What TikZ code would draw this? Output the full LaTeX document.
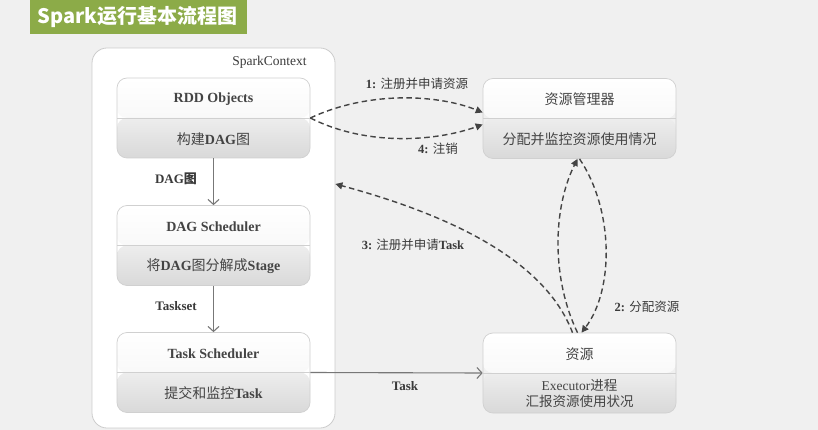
\documentclass[tikz,border=0pt]{standalone}
\usepackage{fontspec}
\setmainfont{Liberation Serif}
\newfontfamily\cjk{Noto Sans CJK SC}
\usetikzlibrary{arrows.meta}
\definecolor{bg}{HTML}{F0F0F0}
\definecolor{ttl}{HTML}{8CAB48}
\definecolor{txt}{HTML}{3A3A3A}
\definecolor{boxtxt}{HTML}{444444}
\definecolor{boxline}{HTML}{D0D0D0}
\definecolor{dashc}{HTML}{444444}
\definecolor{solidc}{HTML}{777777}
\newcommand\zh[1]{{\cjk #1}}
\tikzset{
  twobox/.style={rectangle, rounded corners=10pt, minimum width=193pt, minimum height=80pt,
    inner sep=0pt, draw=boxline, line width=0.7pt,
    path picture={
      \shade[top color=white, bottom color=gray!10]
        (path picture bounding box.north west) rectangle (path picture bounding box.east);
      \shade[top color=gray!14, bottom color=gray!30]
        (path picture bounding box.west) rectangle (path picture bounding box.south east);
      \draw[boxline, line width=0.7pt] (path picture bounding box.west) -- (path picture bounding box.east);
    }},
  boxtext/.style={text=boxtxt, font=\fontsize{14}{16}\selectfont, inner sep=0pt, align=center},
  lbl/.style={text=txt, font=\fontsize{12.5}{14}\selectfont, inner sep=0pt},
  sidelbl/.style={text=txt, font=\fontsize{13}{15}\selectfont\bfseries, inner sep=0pt},
  solidarrow/.style={draw=solidc, line width=1.1pt, -{Straight Barb[length=5pt,width=11pt]}},
  dasharrow/.style={draw=dashc, line width=1.4pt, dash pattern=on 5.5pt off 3.5pt,
    -{Triangle[length=7pt,width=7pt]}},
}
\begin{document}
\begin{tikzpicture}[x=1pt,y=-1pt]
\useasboundingbox (0,0) rectangle (818,430);
\fill[bg] (0,0) rectangle (818,430);

% title banner
\node[fill=ttl, minimum width=217pt, minimum height=34pt, inner sep=0pt] (title) at (138.5,17) {};
\node[text=white, font=\cjk\bfseries\fontsize{20}{22}\selectfont, inner sep=0pt] (titletext) at (137.5,16.5) {Spark运行基本流程图};

% SparkContext container
\node[draw=gray!40, fill=white, rounded corners=15pt, minimum width=243pt, minimum height=380pt,
      inner sep=0pt, line width=0.8pt] (sc) at (213.5,238) {};
\node[text=txt, font=\fontsize{13.5}{15}\selectfont, inner sep=0pt] (sclbl) at (269.5,62) {SparkContext};

% boxes
\node[twobox] (rdd) at (213.5,118) {};
\node[boxtext] (rddt) at ([yshift=19pt]rdd.center) {\bfseries RDD Objects};
\node[boxtext] (rddb) at ([yshift=-21pt]rdd.center) {\zh{构建}\textbf{DAG}\zh{图}};

\node[twobox] (dag) at (213.5,245.5) {};
\node[boxtext] (dagt) at ([yshift=19pt]dag.center) {\bfseries DAG Scheduler};
\node[boxtext] (dagb) at ([yshift=-21pt]dag.center) {\zh{将}\textbf{DAG}\zh{图分解成}\textbf{Stage}};

\node[twobox] (ts) at (213.5,372.5) {};
\node[boxtext] (tst) at ([yshift=19pt]ts.center) {\bfseries Task Scheduler};
\node[boxtext] (tsb) at ([yshift=-21pt]ts.center) {\zh{提交和监控}\textbf{Task}};

\node[twobox] (rm) at (579.5,118.5) {};
\node[boxtext] (rmt) at ([yshift=19pt]rm.center) {\zh{资源管理器}};
\node[boxtext] (rmb) at ([yshift=-21pt]rm.center) {\zh{分配并监控资源使用情况}};

\node[twobox] (res) at (579.5,373) {};
\node[boxtext] (rest) at ([yshift=19pt]res.center) {\zh{资源}};
\node[boxtext, font=\fontsize{13.5}{16}\selectfont] (resb) at ([yshift=-20pt]res.center) {Executor\zh{进程}\\\zh{汇报资源使用状况}};

% solid arrows
\draw[solidarrow] (rdd.south) -- (dag.north);
\draw[solidarrow] (dag.south) -- (ts.north);
\draw[solidarrow] (ts.east) -- (res.west);

% dashed arrows
\draw[dasharrow] (rdd.east) .. controls (370,90) and (440,95) .. ([yshift=6pt]rm.west);
\draw[dasharrow] (rdd.east) .. controls (370,148) and (440,140) .. ([yshift=-6pt]rm.west);
\draw[dasharrow] ([xshift=-7pt]res.north) .. controls (545,260) and (450,215) .. ([yshift=54pt]sc.east);
\draw[dasharrow] ([xshift=-2pt]res.north) .. controls (552,280) and (552,210) .. ([xshift=-2pt]rm.south);
\draw[dasharrow] (rm.south) .. controls (614,210) and (614,290) .. ([xshift=2pt]res.north);

% labels
\node[lbl] (l1) at (417,84) {\textbf{1:} \zh{注册并申请资源}};
\node[lbl] (l4) at (438,149) {\textbf{4:} \zh{注销}};
\node[lbl] (l3) at (413,245) {\textbf{3:} \zh{注册并申请}\textbf{Task}};
\node[lbl] (l2) at (647,307) {\textbf{2:} \zh{分配资源}};
\node[sidelbl] (ltask) at (405,386) {Task};
\node[sidelbl] (ldag) at (176,179) {DAG\zh{图}};
\node[sidelbl] (ltaskset) at (176,306) {Taskset};
\end{tikzpicture}
\end{document}
